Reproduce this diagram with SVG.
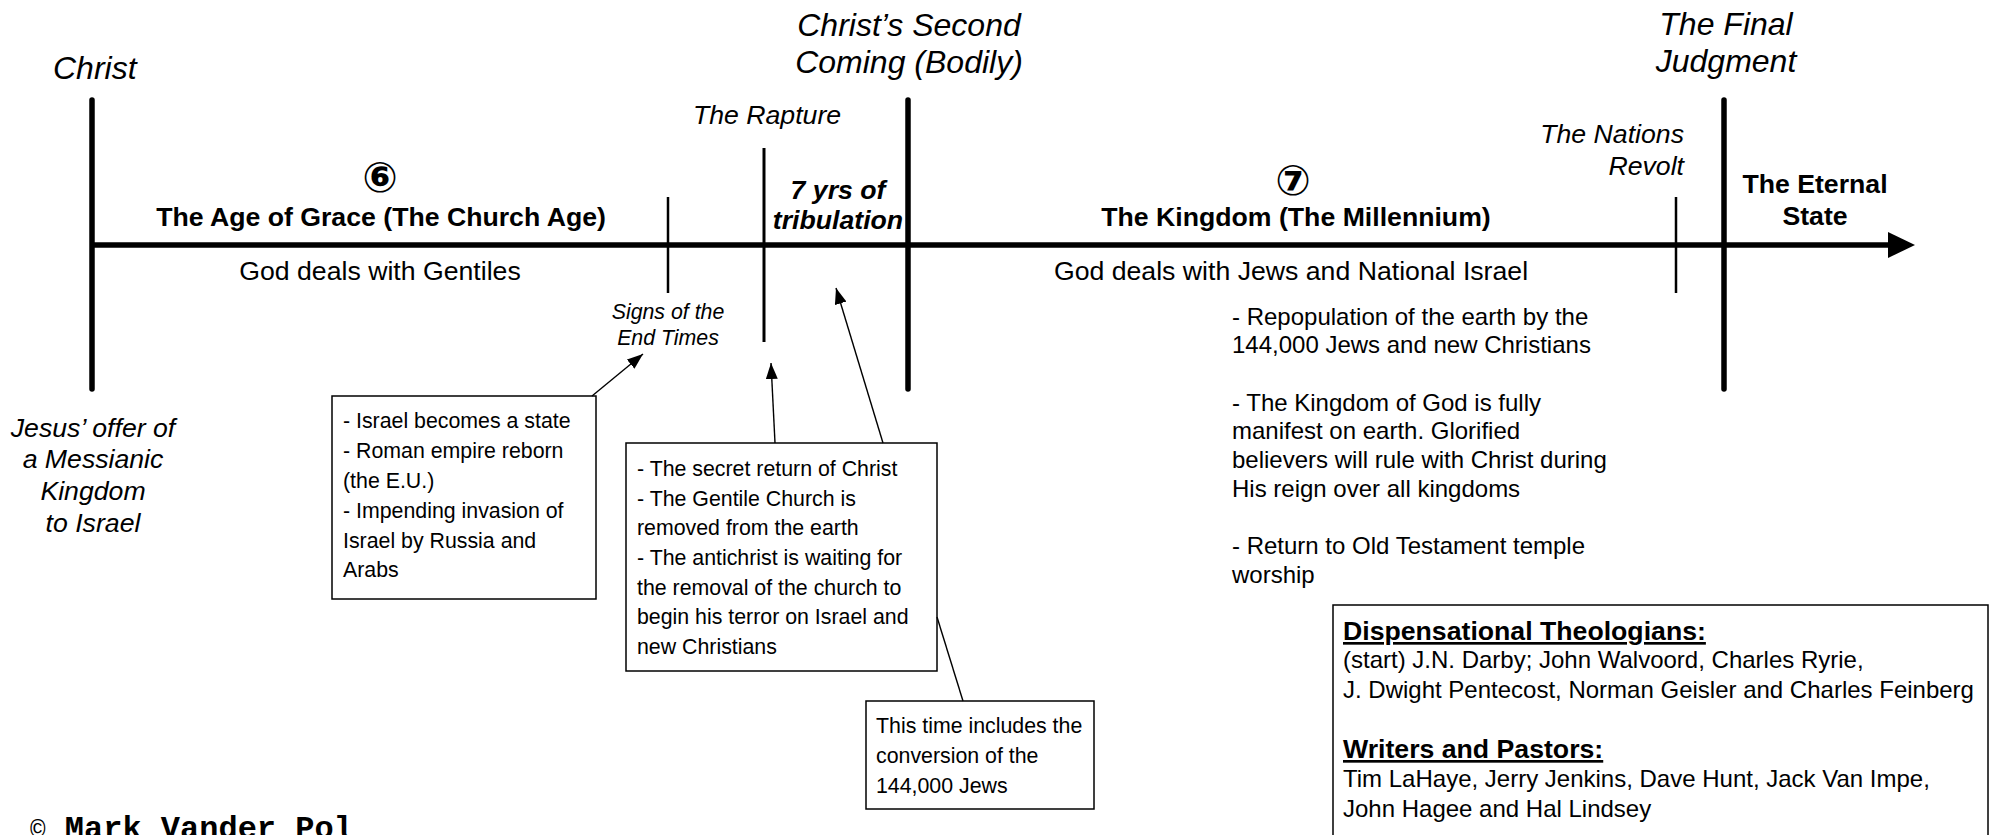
<svg xmlns="http://www.w3.org/2000/svg" width="1997" height="835" viewBox="0 0 1997 835">
<style>
text { font-family: "Liberation Sans", Arial, sans-serif; fill: #000; }
.big { font-size: 32px; font-style: italic; }
.it20 { font-size: 26.67px; font-style: italic; }
.b20 { font-size: 26.67px; font-weight: bold; }
.r20 { font-size: 26.67px; }
.bi20 { font-size: 26.67px; font-weight: bold; font-style: italic; }
.r18 { font-size: 24px; }
.r16 { font-size: 21.33px; }
.it16 { font-size: 21.33px; font-style: italic; }
.circ { font-family: "DejaVu Sans", "Noto Sans CJK SC", sans-serif; font-size: 42px; font-weight: bold; }
.mid { text-anchor: middle; }
.end { text-anchor: end; }
.thick { stroke: #000; stroke-width: 5.5; stroke-linecap: round; fill: none; }
.thin { stroke: #000; stroke-width: 2.5; fill: none; }
.box { fill: #fff; stroke: #000; stroke-width: 1.5; }
.conn { stroke: #000; stroke-width: 1.4; fill: none; }
.ul { text-decoration: underline; }
</style>
<defs>
<marker id="ahl" viewBox="0 0 16 12" refX="16" refY="6" markerWidth="16" markerHeight="12" markerUnits="userSpaceOnUse" orient="auto">
<path d="M0,0 L16,6 L0,12 z" fill="#000"/>
</marker>
</defs>

<g id="timeline">
<line class="thick" x1="92" y1="245" x2="1892" y2="245" style="stroke-linecap:butt"/>
<polygon points="1888,232 1915,245 1888,258" fill="#000"/>
</g>

<g id="node-christ">
<line class="thick" x1="92" y1="100" x2="92" y2="389"/>
<text class="big" x="53" y="79">Christ</text>
<text class="it20 mid" x="93" y="437">Jesus’ offer of</text>
<text class="it20 mid" x="93" y="468">a Messianic</text>
<text class="it20 mid" x="93" y="500">Kingdom</text>
<text class="it20 mid" x="93" y="532">to Israel</text>
</g>

<g id="node-age-of-grace">
<text class="circ mid" x="380" y="177" dominant-baseline="central">⑥</text>
<text class="b20 mid" x="381" y="226">The Age of Grace (The Church Age)</text>
<text class="r20 mid" x="380" y="280">God deals with Gentiles</text>
</g>

<g id="node-signs">
<line class="thin" x1="668" y1="197" x2="668" y2="293"/>
<text class="it16 mid" x="668" y="319">Signs of the</text>
<text class="it16 mid" x="668" y="345">End Times</text>
</g>

<g id="node-rapture">
<line class="thin" x1="764" y1="148" x2="764" y2="342" style="stroke-width:3"/>
<text class="it20 mid" x="767" y="124">The Rapture</text>
</g>

<g id="node-tribulation">
<text class="bi20 mid" x="838" y="199">7 yrs of</text>
<text class="bi20 mid" x="838" y="229">tribulation</text>
</g>

<g id="node-second-coming">
<line class="thick" x1="908" y1="100" x2="908" y2="389"/>
<text class="big mid" x="909" y="36">Christ’s Second</text>
<text class="big mid" x="909" y="73">Coming (Bodily)</text>
</g>

<g id="node-kingdom">
<text class="circ mid" x="1293" y="180" dominant-baseline="central">⑦</text>
<text class="b20 mid" x="1296" y="226">The Kingdom (The Millennium)</text>
<text class="r20 mid" x="1291" y="280">God deals with Jews and National Israel</text>
</g>

<g id="node-kingdom-notes">
<text class="r18" x="1232" y="325">- Repopulation of the earth by the</text>
<text class="r18" x="1232" y="353">144,000 Jews and new Christians</text>
<text class="r18" x="1232" y="411">- The Kingdom of God is fully</text>
<text class="r18" x="1232" y="439">manifest on earth.  Glorified</text>
<text class="r18" x="1232" y="468">believers will rule with Christ during</text>
<text class="r18" x="1232" y="497">His reign over all kingdoms</text>
<text class="r18" x="1232" y="554">- Return to Old Testament temple</text>
<text class="r18" x="1232" y="583">worship</text>
</g>

<g id="node-nations-revolt">
<line class="thin" x1="1676" y1="197" x2="1676" y2="293"/>
<text class="it20 end" x="1684" y="143">The Nations</text>
<text class="it20 end" x="1684" y="175">Revolt</text>
</g>

<g id="node-final-judgment">
<line class="thick" x1="1724" y1="100" x2="1724" y2="389"/>
<text class="big mid" x="1726" y="35">The Final</text>
<text class="big mid" x="1726" y="72">Judgment</text>
</g>

<g id="node-eternal-state">
<text class="b20 mid" x="1815" y="193">The Eternal</text>
<text class="b20 mid" x="1815" y="225">State</text>
</g>

<g id="node-signs-box">
<rect class="box" x="332" y="396" width="264" height="203"/>
<text class="r16" x="343" y="428">- Israel becomes a state</text>
<text class="r16" x="343" y="458">- Roman empire reborn</text>
<text class="r16" x="343" y="488">(the E.U.)</text>
<text class="r16" x="343" y="518">- Impending invasion of</text>
<text class="r16" x="343" y="548">Israel by Russia and</text>
<text class="r16" x="343" y="577">Arabs</text>
</g>

<g id="node-rapture-box">
<rect class="box" x="626" y="443" width="311" height="228"/>
<text class="r16" x="637" y="476">- The secret return of Christ</text>
<text class="r16" x="637" y="506">- The Gentile Church is</text>
<text class="r16" x="637" y="535">removed from the earth</text>
<text class="r16" x="637" y="565">- The antichrist is waiting for</text>
<text class="r16" x="637" y="595">the removal of the church to</text>
<text class="r16" x="637" y="624">begin his terror on Israel and</text>
<text class="r16" x="637" y="654">new Christians</text>
</g>

<g id="node-conversion-box">
<rect class="box" x="866" y="701" width="228" height="108"/>
<text class="r16" x="876" y="733">This time includes the</text>
<text class="r16" x="876" y="763">conversion of the</text>
<text class="r16" x="876" y="793">144,000 Jews</text>
</g>

<g id="node-theologians">
<rect class="box" x="1333" y="605" width="655" height="240"/>
<text class="b20 ul" x="1343" y="640">Dispensational Theologians:</text>
<text class="r18" x="1343" y="668">(start) J.N. Darby; John Walvoord, Charles Ryrie,</text>
<text class="r18" x="1343" y="698">J. Dwight Pentecost, Norman Geisler and Charles Feinberg</text>
<text class="b20 ul" x="1343" y="758">Writers and Pastors:</text>
<text class="r18" x="1343" y="787">Tim LaHaye, Jerry Jenkins, Dave Hunt, Jack Van Impe,</text>
<text class="r18" x="1343" y="817">John Hagee and Hal Lindsey</text>
</g>

<g id="node-copyright">
<text x="30" y="838" style="font-family:'Liberation Mono','Courier New',monospace;font-size:32px"><tspan font-size="26">©</tspan> <tspan font-weight="bold">Mark Vander Pol</tspan></text>
</g>

<g id="connectors">
<line class="conn" x1="592" y1="396" x2="643" y2="354" marker-end="url(#ahl)"/>
<line class="conn" x1="775" y1="443" x2="771" y2="363" marker-end="url(#ahl)"/>
<line class="conn" x1="883" y1="443" x2="836" y2="288" marker-end="url(#ahl)"/>
<line class="conn" x1="937" y1="617" x2="963" y2="701"/>
</g>
</svg>
